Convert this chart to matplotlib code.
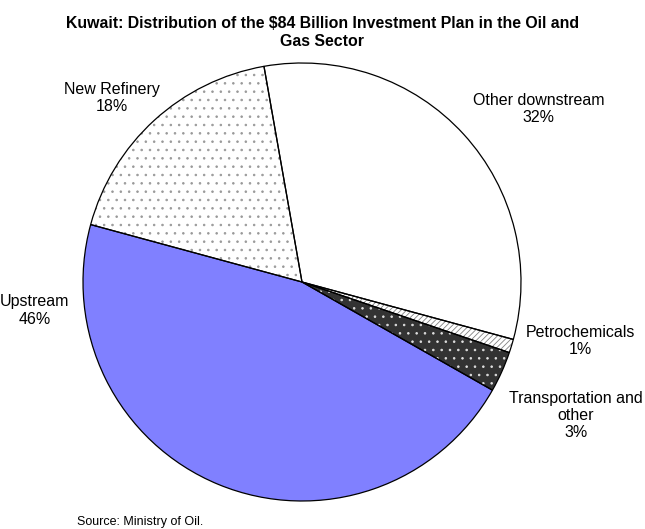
import numpy as np
import matplotlib.pyplot as plt

plt.rcParams['font.family'] = ['Liberation Sans', 'DejaVu Sans']
plt.rcParams['hatch.linewidth'] = 0.6

# data, clockwise from the top
sectors = ['Other downstream', 'Petrochemicals', 'Transportation and\nother',
           'Upstream', 'New Refinery']
shares = [32, 1, 3, 46, 18]

# look of each slice
face = ['white', 'white', '#333333', '#8080ff', 'white']
hatch_col = ['white', '#808080', '#e0e0e0', '#8080ff', '#999999']
hatches = [None, '//////', '..', None, '..']

# where Excel put the labels (in pie radius units)
label_xy = [(1.08, 0.79), (1.27, -0.27), (1.25, -0.61), (-1.22, -0.13), (-0.87, 0.84)]

W, H = 645, 529
cx, cy, r = 302, 247, 219   # pie centre and radius in pixels (from bottom)

fig = plt.figure(figsize=(W / 100, H / 100), dpi=100)
ax = fig.add_axes([0, 0, 1, 1])

# filled slices with hatch (hatch colour comes from edgecolor)
wedges, _ = ax.pie(shares, startangle=100, counterclock=False, radius=1,
                   wedgeprops=dict(linewidth=0))
for w, fc, hc, h in zip(wedges, face, hatch_col, hatches):
    w.set_facecolor(fc)
    w.set_edgecolor(hc)
    if h:
        w.set_hatch(h)

# black outlines on top
ax.pie(shares, startangle=100, counterclock=False, radius=1,
       wedgeprops=dict(fill=False, edgecolor='black', linewidth=0.9))

for name, val, (x, y) in zip(sectors, shares, label_xy):
    ax.text(x, y, f'{name}\n{val}%', ha='center', va='center', fontsize=11.5,
            linespacing=1.2)

ax.set_xlim(-cx / r, (W - cx) / r)
ax.set_ylim(-cy / r, (H - cy) / r)
ax.set_aspect('equal')
ax.axis('off')

fig.text(0.5, 1 - 32 / H, 'Kuwait: Distribution of the $84 Billion Investment Plan in the Oil and\nGas Sector',
         ha='center', va='center', fontsize=11.4, fontweight='bold', linespacing=1.25)
fig.text(77 / W, 1 - 522 / H, 'Source: Ministry of Oil.', fontsize=9, va='center')

plt.savefig('out.png', dpi=100)
